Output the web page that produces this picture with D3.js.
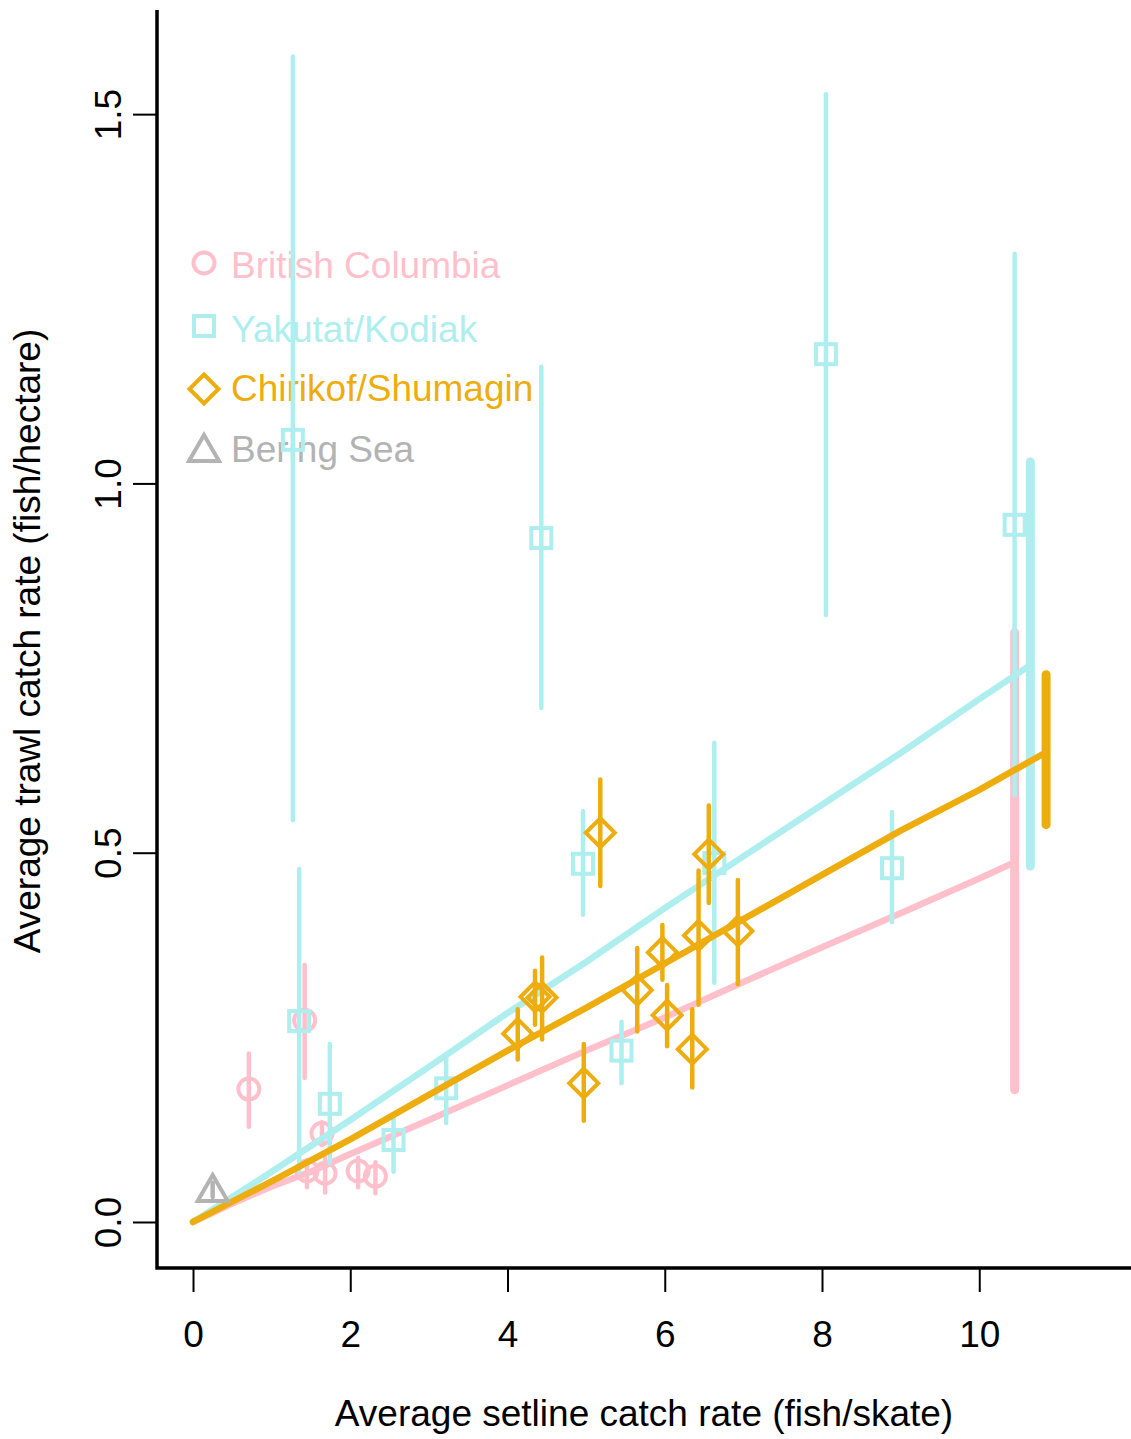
<!DOCTYPE html>
<html>
<head>
<meta charset="utf-8">
<script src="https://cdn.jsdelivr.net/npm/d3@7"></script>
<style>
  body { margin: 0; background: #fff; }
  svg { display: block; }
  text { font-family: "Liberation Sans", Arial, sans-serif; }
</style>
</head>
<body>
<script>
(function() {
    // region names and colours
    var regions = ["British Columbia", "Yakutat/Kodiak", "Chirikof/Shumagin", "Bering Sea"];
    var colors = ["#FFC0CB", "#AEEEEE", "#EEAD0E", "#B3B3B3"];
    var shapes = ["circle", "square", "diamond", "triangle"];

    // observed points: x, y, lower, upper
    var bcX  = [0.71, 1.42, 1.64, 1.45, 1.68, 2.10, 2.32];
    var bcY  = [0.180, 0.273, 0.120, 0.069, 0.066, 0.069, 0.062];
    var bcLo = [0.129, 0.195, 0.104, 0.047, 0.040, 0.047, 0.039];
    var bcHi = [0.228, 0.348, 0.135, 0.084, 0.087, 0.087, 0.081];

    var ykX  = [1.27, 1.35, 1.74, 2.55, 3.22, 4.43, 4.96, 5.45, 6.63, 8.05, 8.89, 10.45];
    var ykY  = [1.059, 0.272, 0.160, 0.111, 0.181, 0.926, 0.485, 0.232, 0.486, 1.175, 0.479, 0.944];
    var ykLo = [0.544, 0.068, 0.080, 0.068, 0.134, 0.696, 0.416, 0.188, 0.324, 0.822, 0.406, 0.578];
    var ykHi = [1.578, 0.478, 0.241, 0.145, 0.226, 1.158, 0.556, 0.271, 0.649, 1.527, 0.555, 1.311];

    var csX  = [5.18, 6.56, 6.43, 6.93, 5.97, 5.65, 6.03, 6.35, 4.97, 4.13, 4.35, 4.44];
    var csY  = [0.527, 0.498, 0.388, 0.394, 0.365, 0.314, 0.280, 0.234, 0.188, 0.255, 0.305, 0.304];
    var csLo = [0.455, 0.432, 0.294, 0.322, 0.328, 0.258, 0.238, 0.182, 0.137, 0.220, 0.267, 0.247];
    var csHi = [0.599, 0.564, 0.476, 0.463, 0.402, 0.371, 0.321, 0.288, 0.241, 0.288, 0.340, 0.358];

    var bsX  = [0.25];
    var bsY  = [0.046];
    var bsLo = [0.034];
    var bsHi = [0.053];

    // fitted mean lines
    var bcFitX = [0, 0.5, 1, 1.5, 2, 3, 4, 5, 6, 7, 8, 9, 10, 10.45];
    var bcFitY = [0, 0.025, 0.048, 0.068, 0.092, 0.138, 0.185, 0.232, 0.277, 0.325, 0.372, 0.418, 0.465, 0.487];
    var ykFitX = [0, 1, 2, 3, 4, 5, 6, 7, 8, 9, 10, 10.65];
    var ykFitY = [0, 0.068, 0.138, 0.210, 0.283, 0.352, 0.425, 0.495, 0.565, 0.635, 0.708, 0.754];
    var csFitX = [0, 1, 2, 3, 4, 5, 6, 7, 8, 9, 10, 10.85];
    var csFitY = [0, 0.055, 0.112, 0.172, 0.232, 0.290, 0.350, 0.410, 0.470, 0.530, 0.585, 0.636];

    // interval at the end of each fitted line: x, lower, upper
    var endX  = [10.45, 10.65, 10.85];
    var endLo = [0.179, 0.482, 0.538];
    var endHi = [0.798, 1.029, 0.741];

    var xTicks = [0, 2, 4, 6, 8, 10];
    var yTicks = [0, 0.5, 1.0, 1.5];

    var W = 1131, H = 1439;
    var svg = d3.select("body").append("svg")
        .attr("width", W)
        .attr("height", H);

    var x = d3.scaleLinear().domain([-0.458, 11.93]).range([157, 1131]);
    var y = d3.scaleLinear().domain([-0.0623, 1.641]).range([1268, 10]);

    // axes
    var xAxis = svg.append("g").attr("transform", "translate(0,1268)")
        .call(d3.axisBottom(x).tickValues(xTicks).tickSize(24).tickSizeOuter(0)
            .tickFormat(d3.format("d")));
    var yAxis = svg.append("g").attr("transform", "translate(157,0)")
        .call(d3.axisLeft(y).tickValues(yTicks).tickSize(24).tickSizeOuter(0)
            .tickFormat(d3.format(".1f")));
    [xAxis, yAxis].forEach(function(a) {
        a.select(".domain").remove();
        a.selectAll(".tick line").attr("stroke", "#000").attr("stroke-width", 2);
    });
    xAxis.selectAll(".tick text")
        .attr("y", null).attr("dy", null)
        .attr("transform", "translate(0,79)")
        .attr("font-size", 37).attr("fill", "#000");
    yAxis.selectAll(".tick text")
        .attr("x", null).attr("dy", null)
        .attr("text-anchor", "middle")
        .attr("transform", "translate(-36,0) rotate(-90)")
        .attr("font-size", 37).attr("fill", "#000");

    // L-shaped frame
    svg.append("path")
        .attr("d", "M157,10 L157,1268 L1131,1268")
        .attr("fill", "none").attr("stroke", "#000").attr("stroke-width", 3.5);

    // axis titles
    svg.append("text")
        .attr("x", 644).attr("y", 1426)
        .attr("text-anchor", "middle").attr("font-size", 37)
        .text("Average setline catch rate (fish/skate)");
    svg.append("text")
        .attr("transform", "translate(40,641) rotate(-90)")
        .attr("text-anchor", "middle").attr("font-size", 37)
        .text("Average trawl catch rate (fish/hectare)");

    // symbol drawing
    function symbol(g, shape, cx, cy, s) {
        if (shape === "circle") {
            g.append("circle").attr("cx", cx).attr("cy", cy).attr("r", 10.5 * s);
        } else if (shape === "square") {
            g.append("rect").attr("x", cx - 10 * s).attr("y", cy - 10 * s)
                .attr("width", 20 * s).attr("height", 20 * s);
        } else if (shape === "diamond") {
            var r = 14.5 * s;
            g.append("path").attr("d", "M" + cx + "," + (cy - r) + " L" + (cx + r) + "," + cy +
                " L" + cx + "," + (cy + r) + " L" + (cx - r) + "," + cy + " Z");
        } else {
            var h = 13 * s, w = 15 * s;
            g.append("path").attr("d", "M" + cx + "," + (cy - h) + " L" + (cx + w) + "," + (cy + h) +
                " L" + (cx - w) + "," + (cy + h) + " Z");
        }
    }

    // legend
    var legY = [263, 326, 389, 448];
    var legBase = [278, 342, 401, 462];
    regions.forEach(function(name, i) {
        var g = svg.append("g")
            .attr("fill", "none").attr("stroke", colors[i]).attr("stroke-width", 4);
        symbol(g, shapes[i], 204, legY[i], 1);
        svg.append("text")
            .attr("x", 231).attr("y", legBase[i])
            .attr("font-size", 37).attr("fill", colors[i])
            .text(name);
    });

    var series = [
        { px: bcX, py: bcY, lo: bcLo, hi: bcHi, fx: bcFitX, fy: bcFitY },
        { px: ykX, py: ykY, lo: ykLo, hi: ykHi, fx: ykFitX, fy: ykFitY },
        { px: csX, py: csY, lo: csLo, hi: csHi, fx: csFitX, fy: csFitY },
        { px: bsX, py: bsY, lo: bsLo, hi: bsHi }
    ];

    var line = d3.line()
        .x(function(d) { return x(d[0]); })
        .y(function(d) { return y(d[1]); });

    series.forEach(function(s, k) {
        var col = colors[k];
        var g = svg.append("g");

        // error bars
        g.selectAll(".err")
            .data(s.px)
            .enter()
                .append("line")
                .attr("x1", function(d) { return x(d); })
                .attr("x2", function(d) { return x(d); })
                .attr("y1", function(d, i) { return y(s.lo[i]); })
                .attr("y2", function(d, i) { return y(s.hi[i]); })
                .attr("stroke", col)
                .attr("stroke-width", 4.5)
                .attr("stroke-linecap", "round");

        // symbols
        var sg = g.append("g")
            .attr("fill", "none").attr("stroke", col).attr("stroke-width", 4);
        s.px.forEach(function(d, i) {
            symbol(sg, shapes[k], x(d), y(s.py[i]), 1);
        });

        if (!s.fx) return;

        // fitted line
        g.append("path")
            .datum(s.fx.map(function(d, i) { return [d, s.fy[i]]; }))
            .attr("d", line)
            .attr("fill", "none")
            .attr("stroke", col)
            .attr("stroke-width", 6.5)
            .attr("stroke-linejoin", "round")
            .attr("stroke-linecap", "round");

        // interval at end of line
        g.append("line")
            .attr("x1", x(endX[k])).attr("x2", x(endX[k]))
            .attr("y1", y(endLo[k])).attr("y2", y(endHi[k]))
            .attr("stroke", col)
            .attr("stroke-width", 9)
            .attr("stroke-linecap", "round");
    });
})();
</script>
</body>
</html>
